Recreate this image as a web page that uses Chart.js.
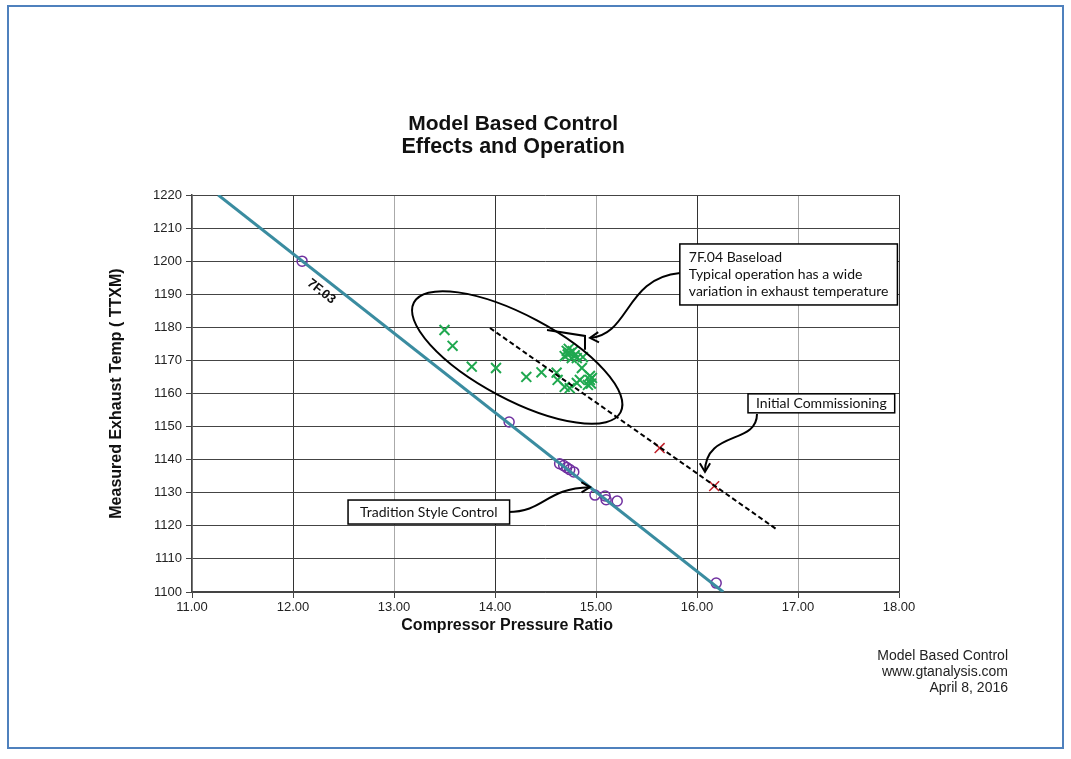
<!DOCTYPE html>
<html>
<head>
<meta charset="utf-8">
<script src="https://cdn.jsdelivr.net/npm/chart.js@4.4.1/dist/chart.umd.min.js"></script>
<style>
    html, body { margin: 0; padding: 0; background: #fff; }
    #wrap { position: relative; width: 1071px; height: 759px; }
    #frame { position: absolute; left: 7px; top: 5px; width: 1053px; height: 740px; border: 2px solid #4f81bd; pointer-events: none; }
    canvas { position: absolute; left: 0; top: 0; }
</style>
</head>
<body>
<div id="wrap">
    <canvas id="mbcChart" width="1071" height="759"></canvas>
    <div id="frame"></div>
</div>
<script>
// 7F.03 reference line
const line7F03Ratio = [11.26, 16.26];
const line7F03Temp = [1220, 1100];

// Tradition style control (purple circles)
const traditionRatio = [12.09, 14.14, 14.64, 14.68, 14.71, 14.74, 14.78, 14.99, 15.09, 15.10, 15.21, 16.19];
const traditionTemp = [1200.0, 1151.4, 1138.8, 1138.2, 1137.6, 1137.0, 1136.3, 1129.3, 1129.0, 1127.9, 1127.5, 1102.7];

// 7F.04 baseload (green crosses)
const baseloadRatio = [13.50, 13.58, 13.77, 14.01, 14.31, 14.46, 14.61, 14.62, 14.69, 14.74,
    14.69, 14.71, 14.74, 14.76, 14.79, 14.73, 14.81, 14.87, 14.86, 14.84,
    14.81, 14.94, 14.92, 14.96, 14.94, 14.95, 14.77, 14.72];
const baseloadTemp = [1179.2, 1174.4, 1168.1, 1167.7, 1165.0, 1166.4, 1166.3, 1164.1, 1162.0, 1161.6,
    1171.3, 1172.9, 1172.2, 1170.7, 1171.6, 1173.5, 1170.7, 1171.0, 1167.7, 1164.1,
    1163.2, 1164.1, 1162.6, 1164.7, 1165.3, 1163.0, 1172.8, 1171.8];

// Initial commissioning (red crosses) and its trend line
const commissionRatio = [15.63, 16.17];
const commissionTemp = [1143.5, 1132.0];
const trendRatio = [13.95, 16.80];
const trendTemp = [1179.8, 1118.7];

const xTicks = [11, 12, 13, 14, 15, 16, 17, 18];

const pairs = (xs, ys) => xs.map((x, i) => ({ x: x, y: ys[i] }));

const fontArial = "'Liberation Sans', Arial, sans-serif";
const fontBox = "Lato, 'Open Sans', sans-serif";

function arrowHead(ctx, fromX, fromY, tipX, tipY) {
    const a = Math.atan2(tipY - fromY, tipX - fromX);
    const len = 10;
    ctx.beginPath();
    ctx.moveTo(tipX + len * Math.cos(a + 2.6), tipY + len * Math.sin(a + 2.6));
    ctx.lineTo(tipX, tipY);
    ctx.lineTo(tipX + len * Math.cos(a - 2.6), tipY + len * Math.sin(a - 2.6));
    ctx.stroke();
}

function textBox(ctx, x, y, lines, lineH, padX, padY) {
    ctx.font = "14px " + fontBox;
    let w = 0;
    lines.forEach((l) => { w = Math.max(w, ctx.measureText(l).width); });
    const boxW = w + padX * 2;
    const boxH = lines.length * lineH + padY * 2;
    ctx.fillStyle = "#fff";
    ctx.fillRect(x, y, boxW, boxH);
    ctx.strokeStyle = "#000";
    ctx.lineWidth = 1.5;
    ctx.strokeRect(x, y, boxW, boxH);
    ctx.fillStyle = "#111";
    ctx.textAlign = "left";
    ctx.textBaseline = "middle";
    lines.forEach((l, i) => {
        ctx.fillText(l, x + padX, y + padY + lineH * i + lineH / 2);
    });
}

const callouts = {
    id: "callouts",
    afterDatasetsDraw: (chart) => {
        const ctx = chart.ctx;
        const xs = chart.scales.x;
        const ys = chart.scales.y;
        const px = (v) => xs.getPixelForValue(v);
        const py = (v) => ys.getPixelForValue(v);

        ctx.save();
        ctx.strokeStyle = "#000";
        ctx.lineWidth = 2;

        // ellipse around the baseload cluster
        ctx.beginPath();
        ctx.ellipse(px(14.22), py(1170.9), 117, 42, 28 * Math.PI / 180, 0, Math.PI * 2);
        ctx.stroke();
        // little callout notch on the ellipse
        ctx.beginPath();
        ctx.moveTo(px(14.515), py(1179.2));
        ctx.lineTo(px(14.891), py(1177.4));
        ctx.lineTo(px(14.891), py(1173.2));
        ctx.stroke();

        // arrow: baseload box -> ellipse
        ctx.beginPath();
        ctx.moveTo(px(15.832), py(1196.4));
        ctx.bezierCurveTo(px(15.287), py(1194.9), px(15.337), py(1177.7), px(14.941), py(1176.8));
        ctx.stroke();
        arrowHead(ctx, px(15.337), py(1177.7), px(14.941), py(1176.8));

        // arrow: initial commissioning
        ctx.beginPath();
        ctx.moveTo(px(16.594), py(1153.8));
        ctx.bezierCurveTo(px(16.594), py(1144.4), px(16.079), py(1149.0), px(16.079), py(1136.3));
        ctx.stroke();
        arrowHead(ctx, px(16.079), py(1149.0), px(16.079), py(1136.3));

        // arrow: tradition style control
        ctx.beginPath();
        ctx.moveTo(px(14.129), py(1124.2));
        ctx.bezierCurveTo(px(14.495), py(1124.2), px(14.495), py(1131.4), px(14.941), py(1131.7));
        ctx.stroke();
        arrowHead(ctx, px(14.495), py(1131.4), px(14.941), py(1131.7));

        // text boxes
        textBox(ctx, px(15.83), py(1205.2), ["7F.04 Baseload", "Typical operation has a wide", "variation in exhaust temperature"], 17, 9, 5);
        textBox(ctx, px(16.505), py(1159.9), ["Initial Commissioning"], 17, 8, 1);
        textBox(ctx, px(12.545), py(1127.8), ["Tradition Style Control"], 18, 12, 3);

        // 7F.03 label along the line
        const ang = Math.atan2(py(line7F03Temp[1]) - py(line7F03Temp[0]), px(line7F03Ratio[1]) - px(line7F03Ratio[0]));
        ctx.save();
        ctx.translate(px(12.28), py(1190.8));
        ctx.rotate(ang);
        ctx.font = "bold 13px " + fontArial;
        ctx.fillStyle = "#111";
        ctx.textAlign = "center";
        ctx.textBaseline = "middle";
        ctx.fillText("7F.03", 0, 0);
        ctx.restore();

        ctx.fillStyle = "#111";
        ctx.textAlign = "center";
        ctx.textBaseline = "middle";

        // chart title, a bit right of the plot centre as in the original
        ctx.font = "bold 21px " + fontArial;
        ctx.fillText("Model Based Control", px(14.18), 124);
        ctx.font = "bold 21.5px " + fontArial;
        ctx.fillText("Effects and Operation", px(14.18), 147);

        // x axis title (sits left of the axis centre, as in the original)
        ctx.font = "bold 16px " + fontArial;
        ctx.fillText("Compressor Pressure Ratio", px(14.12), chart.chartArea.bottom + 34);

        // footer
        ctx.font = "14px " + fontArial;
        ctx.fillStyle = "#222";
        ctx.textAlign = "right";
        const fx = chart.width - 63;
        ctx.fillText("Model Based Control", fx, 656);
        ctx.fillText("www.gtanalysis.com", fx, 672);
        ctx.fillText("April 8, 2016", fx, 688);
        ctx.restore();
    },
};

const canvas = document.getElementById("mbcChart");
const chart = new Chart(canvas.getContext("2d"), {
    type: "scatter",
    data: {
        datasets: [
            {
                label: "7F.03",
                type: "line",
                data: pairs(line7F03Ratio, line7F03Temp),
                borderColor: "#3a8ca0",
                borderWidth: 3,
                pointRadius: 0,
                fill: false,
            },
            {
                label: "Initial Commissioning trend",
                type: "line",
                data: pairs(trendRatio, trendTemp),
                borderColor: "#000",
                borderWidth: 2,
                borderDash: [5, 3],
                pointRadius: 0,
                fill: false,
            },
            {
                label: "Tradition Style Control",
                data: pairs(traditionRatio, traditionTemp),
                pointStyle: "circle",
                pointRadius: 5,
                borderColor: "#7030a0",
                backgroundColor: "rgba(0,0,0,0)",
                borderWidth: 1.5,
            },
            {
                label: "7F.04 Baseload",
                data: pairs(baseloadRatio, baseloadTemp),
                pointStyle: "crossRot",
                pointRadius: 7,
                borderColor: "#1fa84f",
                borderWidth: 2,
            },
            {
                label: "Initial Commissioning",
                data: pairs(commissionRatio, commissionTemp),
                pointStyle: "crossRot",
                pointRadius: 7,
                borderColor: "#c0202a",
                borderWidth: 1.5,
            },
        ],
    },
    options: {
        responsive: false,
        animation: false,
        layout: { padding: { left: 104, top: 195, right: 172, bottom: 120 } },
        scales: {
            x: {
                type: "linear",
                min: 11,
                max: 18,
                afterFit: (s) => { s.height = 47; },
                afterBuildTicks: (s) => { s.ticks = xTicks.map((v) => ({ value: v })); },
                ticks: {
                    callback: (v) => Number(v).toFixed(2),
                    font: { family: fontArial, size: 13 },
                    color: "#222",
                    padding: 2,
                    maxRotation: 0,
                },
                grid: {
                    color: (c) => (c.tick && c.tick.value % 2 === 1 ? "#aaa" : "#333"),
                    tickColor: "#444",
                    tickLength: 6,
                },
                border: { color: "#444", width: 1.5 },
                title: { display: false },
            },
            y: {
                min: 1100,
                max: 1220,
                afterFit: (s) => { s.width = 88; },
                ticks: {
                    stepSize: 10,
                    callback: (v) => String(v),
                    font: { family: fontArial, size: 13 },
                    color: "#222",
                    padding: 4,
                },
                grid: { color: "#444", tickColor: "#444", tickLength: 6 },
                border: { color: "#444", width: 1.5 },
                title: {
                    display: true,
                    text: "Measured Exhaust Temp ( TTXM)",
                    font: { family: fontArial, size: 16, weight: "bold" },
                    color: "#111",
                    padding: { top: 3, bottom: 4 },
                },
            },
        },
        plugins: {
            legend: { display: false },
            tooltip: { enabled: false },
            title: { display: false },
        },
    },
    plugins: [callouts],
});
</script>
</body>
</html>
